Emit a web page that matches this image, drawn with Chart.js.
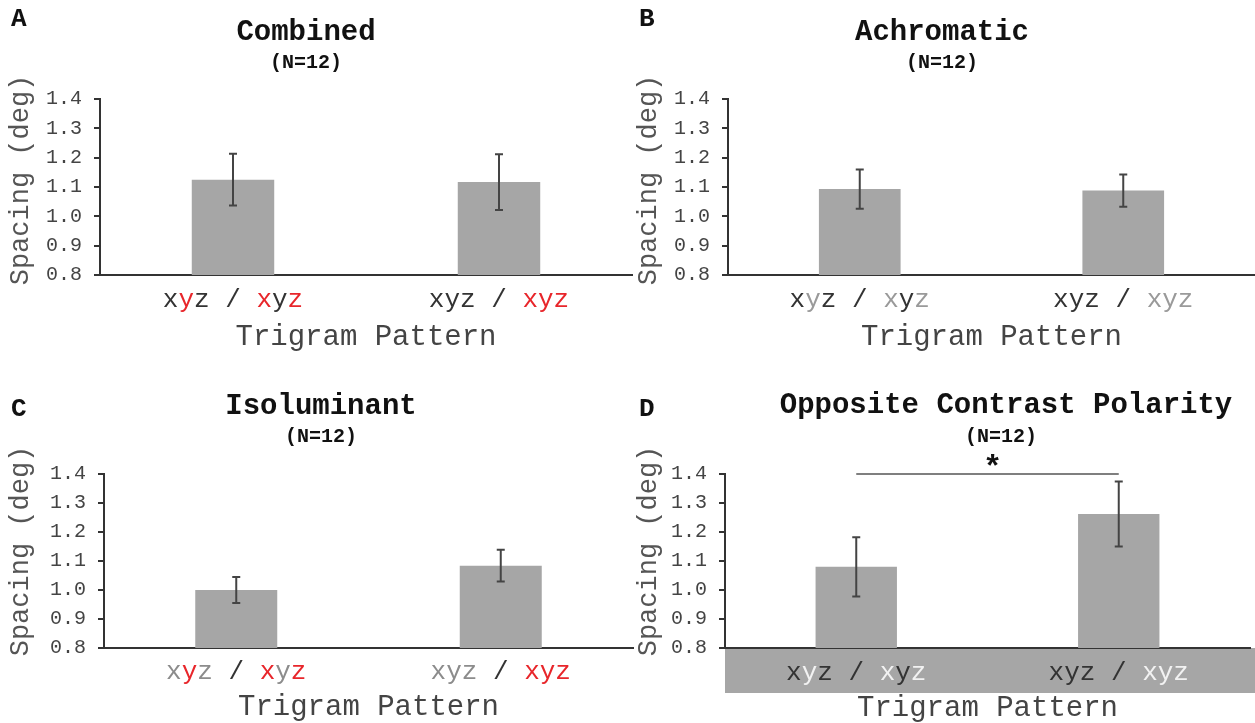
<!DOCTYPE html>
<html>
<head>
<meta charset="utf-8">
<script src="https://cdn.jsdelivr.net/npm/chart.js@4"></script>
<style>
  body { margin: 0; background: #fff; }
  #wrap { position: relative; width: 1255px; height: 723px; overflow: hidden; }
  canvas { position: absolute; }
</style>
</head>
<body>
<div id="wrap">
  <canvas id="chartA" width="640" height="360" style="left:0;top:0"></canvas>
  <canvas id="chartB" width="627" height="360" style="left:628px;top:0"></canvas>
  <canvas id="chartC" width="640" height="343" style="left:0;top:380px"></canvas>
  <canvas id="chartD" width="627" height="343" style="left:628px;top:380px"></canvas>
</div>
<script>
// data
const categories = ['xyz / xyz', 'xyz / xyz']
// which letters of each trigram are drawn in the accent colour
const accentMasks = [
  [[0, 1, 0], [1, 0, 1]],
  [[0, 0, 0], [1, 1, 1]]
]
const yTicks = [0.8, 1.4]

const combinedMeans = [1.125, 1.117]
const combinedErr = [0.088, 0.095]
const achromaticMeans = [1.093, 1.088]
const achromaticErr = [0.067, 0.055]
const isoluminantMeans = [1.0, 1.084]
const isoluminantErr = [0.045, 0.055]
const oppositeMeans = [1.08, 1.262]
const oppositeErr = [0.102, 0.112]
const oppositeSigLevel = 1.4

const FONT = '"Liberation Mono", "Courier New", monospace'
const DARK = '#333333'

const panels = [
  { id: 'chartA', letter: 'A', title: 'Combined', means: combinedMeans, err: combinedErr,
    base: '#333333', accent: '#e8262b', pad: { left: 0, right: 8, top: 99, bottom: 85 }, yw: 100,
    titleX: 306, titleY: 33, nY: 63, letterY: 19, catY: 300, xTitleY: 337, yTitleY: 180 },
  { id: 'chartB', letter: 'B', title: 'Achromatic', means: achromaticMeans, err: achromaticErr,
    base: '#333333', accent: '#9a9a9a', pad: { left: 0, right: 0, top: 99, bottom: 85 }, yw: 100,
    titleX: 314, titleY: 33, nY: 63, letterY: 19, catY: 300, xTitleY: 337, yTitleY: 180 },
  { id: 'chartC', letter: 'C', title: 'Isoluminant', means: isoluminantMeans, err: isoluminantErr,
    base: '#8c8c8c', accent: '#e8262b', pad: { left: 0, right: 7, top: 94, bottom: 75 }, yw: 104,
    titleX: 321, titleY: 27, nY: 57, letterY: 29, catY: 292, xTitleY: 327, yTitleY: 171 },
  { id: 'chartD', letter: 'D', title: 'Opposite Contrast Polarity', means: oppositeMeans, err: oppositeErr,
    base: '#333333', accent: '#f2f2f2', pad: { left: 0, right: 5, top: 94, bottom: 75 }, yw: 97,
    titleX: 378, titleY: 26, nY: 57, nX: 373, letterY: 29, catY: 293, xTitleY: 328, yTitleY: 171,
    band: true, sig: oppositeSigLevel }
]

const panelPlugin = {
  id: 'panelDecor',
  beforeDraw(chart) {
    const p = chart.config.options.panel
    const ctx = chart.ctx
    const area = chart.chartArea
    if (p.band) {
      ctx.save()
      ctx.fillStyle = '#a6a6a6'
      ctx.fillRect(area.left, area.bottom, chart.width - area.left, 45)
      ctx.restore()
    }
  },
  afterDatasetsDraw(chart) {
    const p = chart.config.options.panel
    const ctx = chart.ctx
    const y = chart.scales.y
    const meta = chart.getDatasetMeta(0)
    ctx.save()
    ctx.strokeStyle = '#444'
    ctx.lineWidth = 2
    meta.data.forEach((bar, i) => {
      const top = y.getPixelForValue(p.means[i] + p.err[i])
      const bot = y.getPixelForValue(p.means[i] - p.err[i])
      ctx.beginPath()
      ctx.moveTo(bar.x, top); ctx.lineTo(bar.x, bot)
      ctx.moveTo(bar.x - 4, top); ctx.lineTo(bar.x + 4, top)
      ctx.moveTo(bar.x - 4, bot); ctx.lineTo(bar.x + 4, bot)
      ctx.stroke()
    })
    if (p.sig) {
      const sy = y.getPixelForValue(p.sig)
      const x0 = meta.data[0].x, x1 = meta.data[1].x
      ctx.strokeStyle = '#555'
      ctx.lineWidth = 1.5
      ctx.beginPath()
      ctx.moveTo(x0, sy); ctx.lineTo(x1, sy)
      ctx.stroke()
      ctx.fillStyle = '#111'
      ctx.font = 'bold 32px ' + FONT
      ctx.textAlign = 'center'
      ctx.textBaseline = 'alphabetic'
      ctx.fillText('*', (x0 + x1) / 2 + 5, sy + 3)
    }
    ctx.restore()
  },
  afterDraw(chart) {
    const p = chart.config.options.panel
    const ctx = chart.ctx
    const area = chart.chartArea
    const meta = chart.getDatasetMeta(0)
    ctx.save()
    ctx.textBaseline = 'middle'

    ctx.fillStyle = '#111'
    ctx.textAlign = 'left'
    ctx.font = 'bold 26px ' + FONT
    ctx.fillText(p.letter, 11, p.letterY)

    ctx.textAlign = 'center'
    ctx.font = 'bold 29px ' + FONT
    ctx.fillText(p.title, p.titleX, p.titleY)
    ctx.font = 'bold 20px ' + FONT
    ctx.fillText('(N=12)', p.nX || p.titleX, p.nY)

    // category labels, coloured letter by letter
    ctx.font = '26px ' + FONT
    ctx.textAlign = 'left'
    const cw = ctx.measureText('x').width
    categories.forEach((label, i) => {
      const cx = meta.data[i].x
      const x0 = cx - cw * label.length / 2
      const mask = accentMasks[i]
      for (let k = 0; k < label.length; k++) {
        const ch = label[k]
        if (ch === ' ') continue
        let col = DARK
        if (k < 3) col = mask[0][k] ? p.accent : p.base
        else if (k > 5) col = mask[1][k - 6] ? p.accent : p.base
        ctx.fillStyle = col
        ctx.fillText(ch, x0 + k * cw, p.catY)
      }
    })

    ctx.textAlign = 'center'
    ctx.fillStyle = '#444'
    ctx.font = '29px ' + FONT
    ctx.fillText('Trigram Pattern', (area.left + area.right) / 2, p.xTitleY)

    ctx.translate(21, p.yTitleY)
    ctx.rotate(-Math.PI / 2)
    ctx.font = '27px ' + FONT
    ctx.fillStyle = '#555'
    ctx.fillText('Spacing (deg)', 0, 0)
    ctx.restore()
  }
}

panels.forEach(p => {
  const ctx = document.getElementById(p.id).getContext('2d')
  new Chart(ctx, {
    type: 'bar',
    data: {
      labels: categories,
      datasets: [{
        data: p.means,
        backgroundColor: '#a6a6a6',
        borderWidth: 0,
        barPercentage: 0.31,
        categoryPercentage: 1
      }]
    },
    options: {
      panel: p,
      responsive: false,
      animation: false,
      devicePixelRatio: 1,
      layout: { padding: p.pad },
      plugins: { legend: { display: false }, tooltip: { enabled: false } },
      scales: {
        x: {
          grid: { display: false },
          border: { display: true, color: DARK, width: 2 },
          ticks: { display: false },
          afterFit: s => { s.height = 0 }
        },
        y: {
          min: yTicks[0],
          max: yTicks[1],
          afterFit: s => { s.width = p.yw },
          grid: { drawOnChartArea: false, drawTicks: true, tickLength: 6, color: DARK, lineWidth: 2 },
          border: { display: true, color: DARK, width: 2 },
          ticks: {
            stepSize: 0.1,
            padding: 12,
            color: '#444',
            font: { family: FONT, size: 20 },
            callback: v => Number(v).toFixed(1)
          }
        }
      }
    },
    plugins: [panelPlugin]
  })
})
</script>
</body>
</html>
